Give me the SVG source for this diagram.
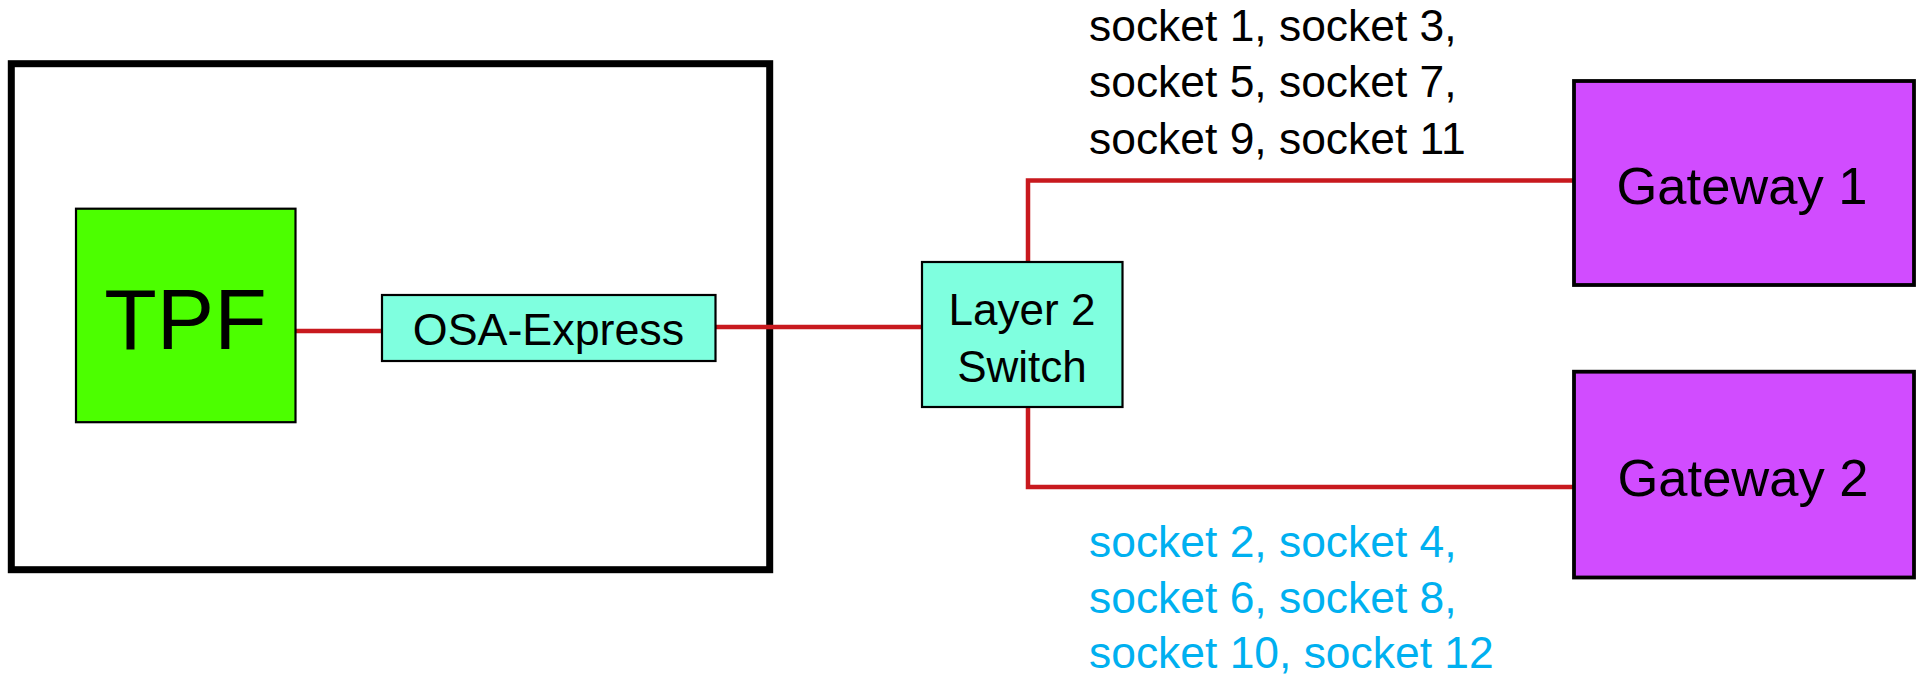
<svg xmlns="http://www.w3.org/2000/svg" width="1916" height="676" viewBox="0 0 1916 676">
  <style>
    text { font-family: "Liberation Sans", Arial, sans-serif; fill: #000; }
    .mid { text-anchor: middle; }
    .link { fill: none; stroke: #c8191e; stroke-width: 4.5; }
    .box { stroke: #000; stroke-width: 2.2; }
    .gw { fill: #d14cff; stroke: #000; stroke-width: 3.8; }
    .sock { font-size: 44.4px; }
    .blue { fill: #00b0f0; }
  </style>
  <rect width="1916" height="676" fill="#fff"/>

  <!-- host frame -->
  <g id="host">
    <rect x="11.3" y="63.7" width="758.4" height="506" fill="none" stroke="#000" stroke-width="7"/>
  </g>

  <!-- links -->
  <g id="connectors">
    <line class="link" x1="295.5" y1="331" x2="382" y2="331"/>
    <line class="link" x1="715.5" y1="327" x2="922" y2="327"/>
    <path class="link" d="M1028 262 V180.5 H1574"/>
    <path class="link" d="M1028 407 V487 H1574"/>
  </g>

  <g id="tpf">
    <rect class="box" x="76" y="208.7" width="219.5" height="213.5" fill="#4cff00"/>
    <text class="mid" x="185.5" y="349" font-size="86">TPF</text>
  </g>

  <g id="osa">
    <rect class="box" x="382" y="295" width="333.5" height="66" fill="#7fffdf"/>
    <text class="mid" x="548.5" y="345" font-size="44.8">OSA-Express</text>
  </g>

  <g id="switch">
    <rect class="box" x="922" y="262" width="200.5" height="145" fill="#7fffdf"/>
    <text class="mid" x="1022" y="325" font-size="44">Layer 2</text>
    <text class="mid" x="1022" y="381.7" font-size="44">Switch</text>
  </g>

  <g id="gateway1">
    <rect class="gw" x="1574" y="81" width="340" height="204"/>
    <text class="mid" x="1742" y="204" font-size="52.5">Gateway 1</text>
  </g>

  <g id="gateway2">
    <rect class="gw" x="1574" y="371.7" width="340" height="205.8"/>
    <text class="mid" x="1743" y="496" font-size="52.5">Gateway 2</text>
  </g>

  <!-- socket labels -->
  <g id="sockets-odd" class="sock">
    <text x="1089" y="40.7">socket 1, socket 3,</text>
    <text x="1089" y="97">socket 5, socket 7,</text>
    <text x="1089" y="153.6">socket 9, socket 11</text>
  </g>
  <g id="sockets-even" class="sock">
    <text class="blue" x="1089" y="556.7">socket 2, socket 4,</text>
    <text class="blue" x="1089" y="613.3">socket 6, socket 8,</text>
    <text class="blue" x="1089" y="668.3">socket 10, socket 12</text>
  </g>
</svg>
